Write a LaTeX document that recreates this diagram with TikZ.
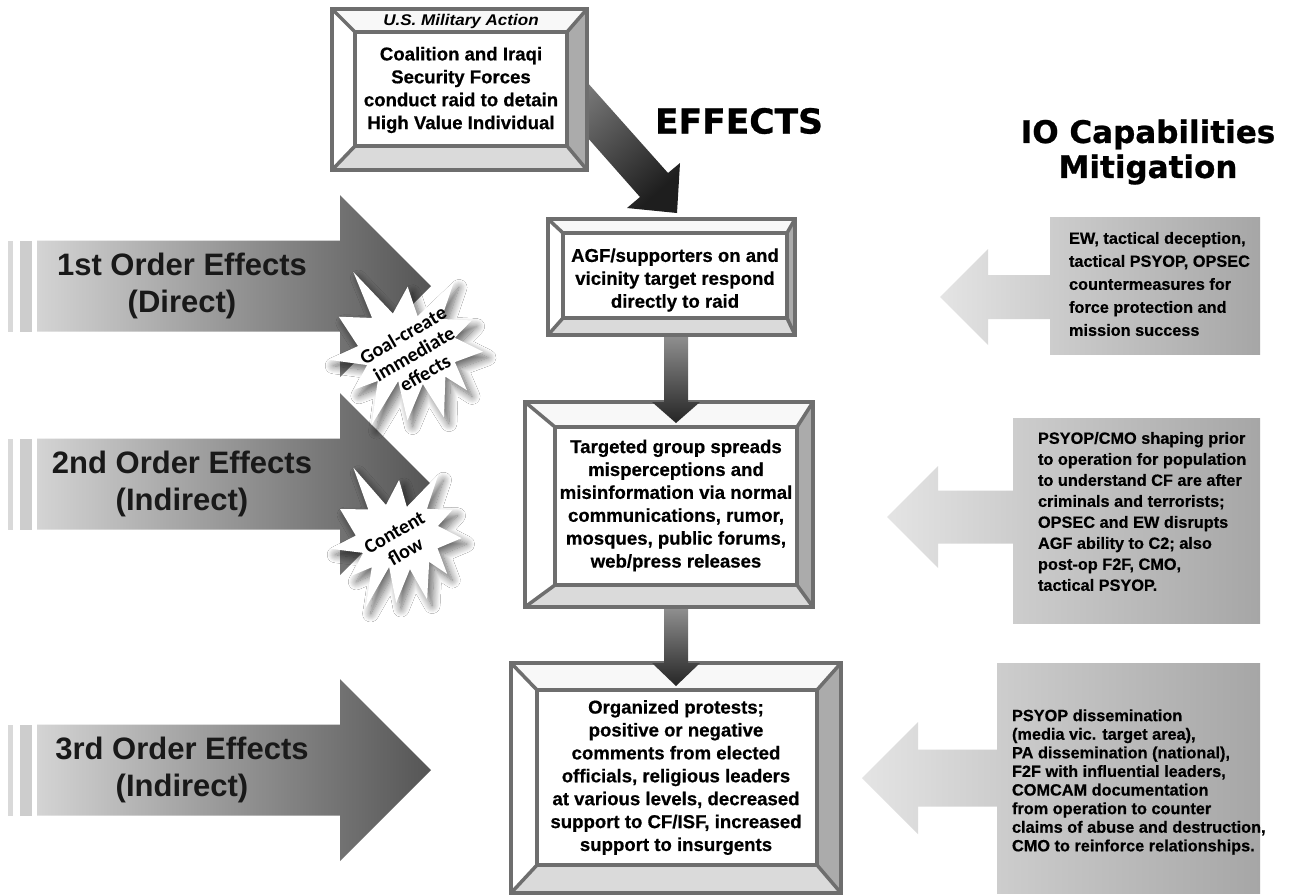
\documentclass[tikz,border=0pt]{standalone}
\usepackage{fontspec}
\setmainfont{Liberation Sans}
\newfontfamily\demi{Liberation Sans}[BoldFeatures={FakeBold=0.6}]
\newfontfamily\heavy{DejaVu Sans}[BoldFeatures={FakeBold=0.8}]
\newfontfamily\calib{Carlito}
\usetikzlibrary{shadows.blur}
\definecolor{frameC}{HTML}{6E6E6E}
\definecolor{bandR}{HTML}{ABABAB}
\definecolor{bandB}{HTML}{DADADA}
\definecolor{bandT}{HTML}{F8F8F8}
\definecolor{ordL}{HTML}{D4D4D4}
\definecolor{ordR}{HTML}{555555}
\definecolor{stripeA}{HTML}{D9D9D9}
\definecolor{stripeB}{HTML}{CDCDCD}
\definecolor{mitTip}{HTML}{E4E4E4}
\definecolor{mitMid}{HTML}{CDCDCD}
\definecolor{mitR}{HTML}{A6A6A6}
\definecolor{darrT}{HTML}{8E8E8E}
\definecolor{darrB}{HTML}{252525}
\definecolor{diagT}{HTML}{8A8A8A}
\definecolor{diagB}{HTML}{1E1E1E}
\tikzset{
  frame/.style={draw=frameC, line width=3.5pt, line join=miter},
  boxtext/.style={align=center, font=\demi\bfseries\fontsize{18.6}{22.9}\selectfont},
  ordtext/.style={align=center, font=\bfseries\fontsize{31}{37}\selectfont, text=black!90},
  mittext/.style={align=left, anchor=west, font=\demi\bfseries\fontsize{16.3}{#1}\selectfont},
  bursttext/.style={align=center, rotate=30, font=\calib\bfseries\fontsize{20}{22}\selectfont},
  burst/.style={fill=white, blur shadow={shadow xshift=5pt, shadow yshift=-6pt, shadow blur radius=8pt, shadow blur steps=12, shadow opacity=60}},
}
% outer X1 Y1 X2 Y2, inner x1 y1 x2 y2
\newcommand{\bevelbox}[8]{%
  \fill[bandT] (#1,#2) -- (#3,#2) -- (#7,#6) -- (#5,#6) -- cycle;
  \fill[white] (#1,#2) -- (#5,#6) -- (#5,#8) -- (#1,#4) -- cycle;
  \fill[bandR] (#3,#2) -- (#3,#4) -- (#7,#8) -- (#7,#6) -- cycle;
  \fill[bandB] (#1,#4) -- (#5,#8) -- (#7,#8) -- (#3,#4) -- cycle;
  \fill[white] (#5,#6) rectangle (#7,#8);
  \draw[frame] (#1,#2) -- (#5,#6) (#3,#2) -- (#7,#6) (#1,#4) -- (#5,#8) (#3,#4) -- (#7,#8);
  \draw[frame] (#1,#2) rectangle (#3,#4);
  \draw[frame] (#5,#6) rectangle (#7,#8);
}
% left order arrow, centre y
\newcommand{\ordarrow}[1]{%
  \fill[stripeA] (8,#1-45.5) rectangle (13,#1+45.5);
  \fill[stripeB] (20,#1-45.5) rectangle (32,#1+45.5);
  \shade[left color=ordL, right color=ordR] (37,#1-45.5) -- (340,#1-45.5) -- (340,#1-91) -- (431,#1) -- (340,#1+91) -- (340,#1+45.5) -- (37,#1+45.5) -- cycle;
}
% mitigation arrow: cy, headhalf, bodyhalf, tipx, basex, rectx, recttop, rectbottom
\newcommand{\mitarrow}[8]{%
  \shade[left color=mitTip, right color=mitMid] (#4,#1) -- (#5,#1-#2) -- (#5,#1-#3) -- (#6+1,#1-#3) -- (#6+1,#1+#3) -- (#5,#1+#3) -- (#5,#1+#2) -- cycle;
  \shade[left color=mitMid, right color=mitR] (#6,#7) rectangle (1260,#8);
}
% down arrow: x centre, top, head y, tip y
\newcommand{\dnarrow}[4]{%
  \shade[top color=darrT, bottom color=darrB] (#1-12,#2) -- (#1+12,#2) -- (#1+12,#3) -- (#1+24,#3) -- (#1,#4) -- (#1-24,#3) -- (#1-12,#3) -- cycle;
}
% explosion: cx cy halfw halfh rot
\newcommand{\explosion}[5]{%
  \begin{scope}[shift={(#1,#2)}, rotate=#5, x=#3pt, y=-#4pt]
    \path[burst] (0,-0.463) -- (0.345,-1) -- (0.311,-0.507) -- (0.702,-0.587) -- (0.546,-0.323) -- (0.953,-0.247) -- (0.630,-0.030) -- (0.881,0.272) -- (0.559,0.177) -- (0.680,0.675) -- (0.298,0.339) -- (0.227,0.828) -- (-0.025,0.383) -- (-0.214,1) -- (-0.286,0.447) -- (-0.559,0.631) -- (-0.475,0.290) -- (-0.988,0.351) -- (-0.655,0.090) -- (-1,-0.202) -- (-0.572,-0.295) -- (-0.966,-0.788) -- (-0.323,-0.415) -- (-0.227,-0.788) -- cycle;
  \end{scope}
}
\begin{document}
\begin{tikzpicture}[x=1pt,y=-1pt, every node/.style={inner sep=0pt, outer sep=0pt}]
\useasboundingbox (0,0) rectangle (1289,895);
\fill[white] (0,0) rectangle (1289,895);

% left order arrows
\ordarrow{286}
\ordarrow{484}
\ordarrow{770}
\node[ordtext] (o1) at (182,286) {1st Order Effects\\(Direct)};
\node[ordtext] (o2) at (182,484) {2nd Order Effects\\(Indirect)};
\node[ordtext] (o3) at (182,770) {3rd Order Effects\\(Indirect)};

% mitigation arrows
\mitarrow{297}{48}{22}{940}{988}{1050}{217}{354}
\mitarrow{517}{51}{26.5}{887}{938}{1013}{418}{623}
\mitarrow{778}{56}{28.5}{862}{918}{997}{663}{893}
\node[mittext=23] (m1) at (1069,284) {EW, tactical deception,\\tactical PSYOP, OPSEC\\countermeasures for\\force protection and\\mission success};
\node[mittext=21] (m2) at (1038,511.5) {PSYOP/CMO shaping prior\\to operation for population\\to understand CF are after\\criminals and terrorists;\\OPSEC and EW disrupts\\AGF ability to C2; also\\post-op F2F, CMO,\\tactical PSYOP.};
\node[mittext=18.6] (m3) at (1012,782) {PSYOP dissemination\\(media vic. target area),\\PA dissemination (national),\\F2F with influential leaders,\\COMCAM documentation\\from operation to counter\\claims of abuse and destruction,\\CMO to reinforce relationships.};

% headings
\node (eff) at (739,121) {\heavy\bfseries\fontsize{34.5}{34.5}\selectfont EFFECTS};
\node[align=center, font=\heavy\bfseries\fontsize{31}{35}\selectfont] (io) at (1148,152) {IO Capabilities\\Mitigation};

% diagonal arrow from box 1 to box 2
\shade[top color=diagT, bottom color=diagB, shading angle=42]
  (560,51.8) -- (668,173) -- (680,163) -- (677,213) -- (627,208) -- (640,197) -- (545,89.5) -- cycle;

% boxes
\bevelbox{332}{9}{587}{170}{355}{32}{567}{146}
\node[font=\bfseries\itshape\fontsize{15.5}{15.5}\selectfont] (usma) at (461,21) {\scalebox{1.1}[1]{U.S. Military Action}};
\node[boxtext] (b1) at (461,90) {Coalition and Iraqi\\Security Forces\\conduct raid to detain\\High Value Individual};

\bevelbox{548}{219}{795}{335}{563}{233}{787}{318}
\node[boxtext] (b2) at (675,280) {AGF/supporters on and\\vicinity target respond\\directly to raid};

\bevelbox{525}{402}{813}{607}{555}{427}{797}{585}
\node[boxtext] (b3) at (676,505.5) {Targeted group spreads\\misperceptions and\\misinformation via normal\\communications, rumor,\\mosques, public forums,\\web/press releases};

\bevelbox{511}{663}{841}{893}{537}{690}{817}{865}
\node[boxtext] (b4) at (676,777.5) {Organized protests;\\positive or negative\\comments from elected\\officials, religious leaders\\at various levels, decreased\\support to CF/ISF, increased\\support to insurgents};

% down arrows
\dnarrow{676}{337}{402}{423}
\dnarrow{676}{609}{663}{686}

% starbursts
\explosion{408}{352}{76}{80}{-15}
\node[bursttext] (goal) at (414,354) {Goal-create\\immediate\\effects};
\explosion{398}{540}{64}{74}{-15}
\node[bursttext] (cflow) at (400,542) {Content\\flow};
\end{tikzpicture}
\end{document}
